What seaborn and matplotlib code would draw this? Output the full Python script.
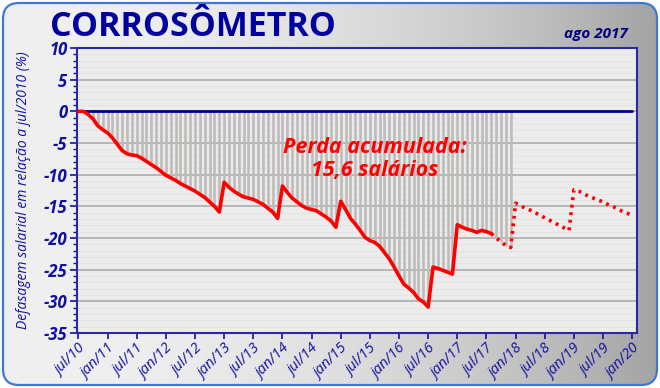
import numpy as np
import pandas as pd
import matplotlib
matplotlib.use("Agg")
import matplotlib.pyplot as plt
import seaborn as sns
from matplotlib.patches import FancyBboxPatch
from matplotlib.ticker import MultipleLocator

# ---------------- data ----------------
tick_labels = ["jul/10", "jan/11", "jul/11", "jan/12", "jul/12", "jan/13", "jul/13",
               "jan/14", "jul/14", "jan/15", "jul/15", "jan/16", "jul/16", "jan/17",
               "jul/17", "jan/18", "jul/18", "jan/19", "jul/19", "jan/20"]

# monthly wage gap (%) from jul/2010 (index 0) to jan/2020 (index 114)
defasagem = [
    0, 0, -0.5, -1.2, -2.3, -2.9, -3.4, -4.2, -5.2, -6.2, -6.7, -6.9, -7.0, -7.4, -7.9,
    -8.4, -8.9, -9.5, -10.1, -10.5, -10.9, -11.4, -11.8, -12.2, -12.6, -13.1, -13.6,
    -14.3, -15.0, -15.9,
    -11.2, -12.0, -12.6, -13.1, -13.5, -13.7, -13.9, -14.3, -14.7, -15.3, -15.9, -16.9,
    -11.8, -12.8, -13.7, -14.3, -14.9, -15.3, -15.5, -15.7, -16.2, -16.7, -17.3, -18.3,
    -14.2, -15.5, -16.9, -17.8, -18.8, -19.9, -20.4, -20.7, -21.3, -22.3, -23.3, -24.6,
    -26.0, -27.3, -27.9, -28.6, -29.6, -30.1, -30.9,
    -24.6, -24.8, -25.1, -25.4, -25.7,
    -17.9, -18.3, -18.6, -18.8, -19.1, -18.8, -19.0, -19.3, -20.0, -20.6, -21.2, -21.5,
    -14.5, -14.9, -15.3, -15.6, -16.0, -16.4, -16.8, -17.2, -17.6, -18.0, -18.4, -18.8,
    -12.4, -12.6, -13.0, -13.4, -13.7, -14.0, -14.3, -14.7, -15.0, -15.4, -15.8, -16.1,
    -16.4,
]
last_observed = 85      # ago/2017: solid up to here, projection after
last_bar = 89           # shaded loss bars until dec/2017

titulo = "CORROSÔMETRO"
data_ref = "ago 2017"
ylabel = "Defasagem salarial em relação a jul/2010 (%)"
anotacao = "Perda acumulada:\n15,6 salários"

# ---------------- build frames ----------------
mes = np.arange(len(defasagem))
df = pd.DataFrame({"mes": mes, "valor": defasagem})
df_obs = df[df.mes <= last_observed]
df_proj = df[df.mes >= last_observed]
df_bar = df[df.mes <= last_bar]
df_zero = pd.DataFrame({"mes": mes, "valor": np.zeros(len(mes))})

# ---------------- style ----------------
sns.set_style("white")
plt.rcParams["font.family"] = ["Open Sans", "DejaVu Sans"]

W, H = 660, 388
fig = plt.figure(figsize=(W / 100, H / 100), dpi=100)
fig.patch.set_facecolor("white")

# background panel with gradient and rounded blue border
bg = fig.add_axes([0, 0, 1, 1])
bg.set_xlim(0, W)
bg.set_ylim(0, H)
bg.axis("off")
grad = np.linspace(0, 1, 256)
vals = 0.94 - 0.30 * grad ** 2.2
img = np.tile(np.stack([vals, vals, vals], axis=-1)[None, :, :], (2, 1, 1))
patch = FancyBboxPatch((3, 3), W - 6, H - 6, boxstyle="round,pad=0,rounding_size=16",
                       facecolor="none", edgecolor="#3c78d8", linewidth=1.6, zorder=3)
bg.add_patch(patch)
im = bg.imshow(img, extent=[3, W - 3, 3, H - 3], aspect="auto", zorder=1)
im.set_clip_path(patch)

navy = "#1010a0"

ax = fig.add_axes([77 / W, 1 - 333 / H, (637 - 77) / W, (333 - 48) / H])
ax.set_facecolor("#ececec")

# faint horizontal texture + major grid
for yv in np.arange(-35, 10.01, 1):
    ax.axhline(yv, color="#e2e2e2", lw=0.6, zorder=0)
for yv in np.arange(-30, 10, 5):
    ax.axhline(yv, color="#b2b2b2", lw=1.3, zorder=0.5)

# loss bars
ax.vlines(df_bar.mes, df_bar.valor, 0, color="#bdbab8", lw=1.8, zorder=1)

# zero line
sns.lineplot(data=df_zero, x="mes", y="valor", ax=ax, color="#00008b", lw=2.0, zorder=4)
# observed
sns.lineplot(data=df_obs, x="mes", y="valor", ax=ax, color="#ff0000", lw=2.6, zorder=5)
# projection
sns.lineplot(data=df_proj, x="mes", y="valor", ax=ax, color="#ff0000", lw=2.6,
             linestyle=(0, (0.8, 1.3)), zorder=5)

ax.set_xlim(-0.3, 115)
ax.set_ylim(-35, 10)
ax.set_xticks(np.arange(0, 115, 6))
ax.set_xticklabels(tick_labels, rotation=45, ha="right", rotation_mode="anchor",
                   fontsize=10.5, style="italic", color=navy)
ax.set_yticks(np.arange(-35, 11, 5))
ax.set_yticklabels([str(v) for v in range(-35, 11, 5)], fontsize=12, style="italic",
                   fontweight="bold", color=navy)
ax.yaxis.set_minor_locator(MultipleLocator(1))
ax.tick_params(axis="x", which="major", direction="out", length=4, color=navy, width=1.2,
               pad=2, bottom=True)
ax.tick_params(axis="y", which="major", direction="out", length=5, color=navy, width=1.2,
               pad=2, left=True)
ax.tick_params(axis="y", which="minor", direction="out", length=3, color=navy, width=1.0,
               left=True)
ax.set_xlabel("")
ax.set_ylabel(ylabel, fontsize=10, style="italic", color=navy, labelpad=9)
for s in ax.spines.values():
    s.set_color("#2828a8")
    s.set_linewidth(1.5)

ax.text(61, -7.5, anotacao, color="#ff0000", fontsize=15.5, fontweight="bold",
        style="italic", ha="center", va="center", linespacing=1.15, zorder=6)

fig.text(50 / W, 1 - 36 / H, titulo, fontsize=24.5, fontweight="bold", color="#0000a0",
         ha="left", va="baseline")
fig.text(628 / W, 1 - 34 / H, data_ref, fontsize=11, fontweight="bold", style="italic",
         color="#000080", ha="right", va="center")

fig.savefig("out.png", dpi=100)
